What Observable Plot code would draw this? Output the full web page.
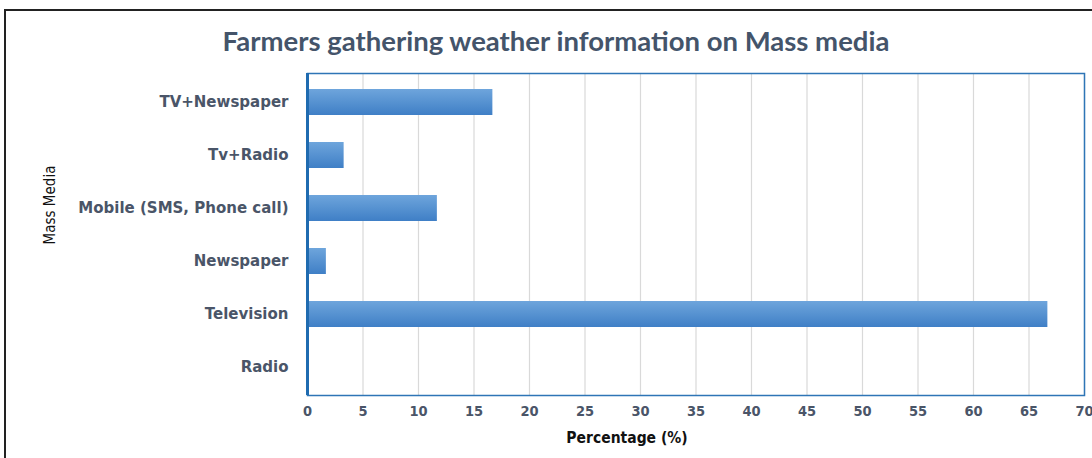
<!DOCTYPE html>
<html>
<head>
<meta charset="utf-8">
<script src="https://cdn.jsdelivr.net/npm/d3@7"></script>
<script src="https://cdn.jsdelivr.net/npm/@observablehq/plot@0.6"></script>
<style>
  html, body { margin: 0; padding: 0; background: #fff; overflow: hidden; }
  #wrap { position: relative; width: 1092px; height: 458px; }
  #border { position: absolute; left: 4px; top: 9px; width: 1100px; height: 470px;
            border: 2px solid #222; box-sizing: border-box; }
  #title { position: absolute; left: 0; width: 1112px; top: 24px; text-align: center;
           font-family: Lato, "Open Sans", sans-serif; font-weight: 700; font-size: 27.5px;
           color: #44546a; }
  #xlabel { position: absolute; left: 520px; width: 214px; top: 429px; text-align: center;
            font-family: "Liberation Sans Narrow", "DejaVu Sans Condensed", sans-serif;
            font-weight: 700; font-size: 15.5px; color: #111; }
  #ylabel { position: absolute; left: 50px; top: 205px; transform: translate(-50%, -50%) rotate(-90deg);
            font-family: "Liberation Sans Narrow", "DejaVu Sans Condensed", sans-serif;
            font-size: 15px; color: #111; white-space: nowrap; }
  #chart { position: absolute; left: 0; top: 0; }
</style>
</head>
<body>
<div id="wrap">
  <div id="chart"></div>
  <div id="border"></div>
  <div id="title">Farmers gathering weather information on Mass media</div>
  <div id="xlabel">Percentage (%)</div>
  <div id="ylabel">Mass Media</div>
</div>
<script>
// Share of farmers using each mass-media channel for weather information (%)
const media = ["TV+Newspaper", "Tv+Radio", "Mobile (SMS, Phone call)", "Newspaper", "Television", "Radio"];
const percent = [16.7, 3.3, 11.7, 1.7, 66.7, 0];
const xTicks = [0, 5, 10, 15, 20, 25, 30, 35, 40, 45, 50, 55, 60, 65, 70];

const rows = media.map((m, i) => ({media: m, percent: percent[i]}));

const chart = Plot.plot({
  width: 1092,
  height: 458,
  marginLeft: 307,
  marginRight: 8,
  marginTop: 73,
  marginBottom: 63,
  style: {background: "transparent", overflow: "visible"},
  x: {domain: [0, 70], ticks: xTicks, label: null},
  y: {domain: media, paddingInner: 0.51, paddingOuter: 0.255, label: null},
  marks: [
    Plot.gridX(xTicks, {stroke: "#d9d9d9", strokeOpacity: 1, strokeWidth: 1.2}),
    Plot.barX(rows, {y: "media", x: "percent", fill: "url(#barGrad)"}),
    Plot.frame({stroke: "#2e75b6", strokeWidth: 1.5}),
    Plot.ruleX([0], {stroke: "#1f6bb0", strokeWidth: 3}),
    Plot.axisX(xTicks, {
      tickSize: 0, tickPadding: 10,
      fontFamily: "'Liberation Sans Narrow', 'DejaVu Sans Condensed', sans-serif",
      fontSize: 14.5, fontWeight: 700, fill: "#4a5568"
    }),
    Plot.axisY({
      tickSize: 0, tickPadding: 19,
      fontFamily: "'DejaVu Sans', Verdana, sans-serif",
      fontSize: 15, fontWeight: 700, fill: "#4a5568"
    })
  ]
});

// vertical gradient used by the bars
const ns = "http://www.w3.org/2000/svg";
const defs = document.createElementNS(ns, "defs");
const grad = document.createElementNS(ns, "linearGradient");
grad.setAttribute("id", "barGrad");
grad.setAttribute("x1", "0"); grad.setAttribute("y1", "0");
grad.setAttribute("x2", "0"); grad.setAttribute("y2", "1");
[["0", "#6ea5dc"], ["1", "#3f7fc6"]].forEach(([o, c]) => {
  const s = document.createElementNS(ns, "stop");
  s.setAttribute("offset", o); s.setAttribute("stop-color", c);
  grad.appendChild(s);
});
defs.appendChild(grad);
chart.insertBefore(defs, chart.firstChild);

document.getElementById("chart").appendChild(chart);
</script>
</body>
</html>
